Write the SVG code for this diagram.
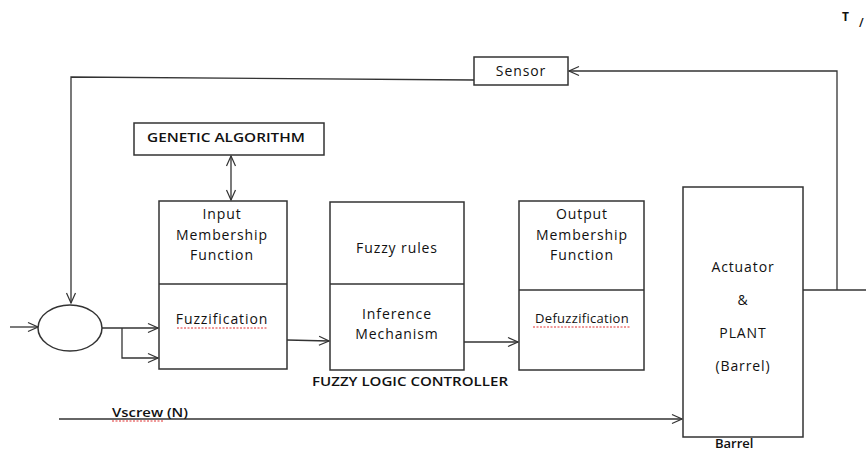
<svg xmlns="http://www.w3.org/2000/svg" width="866" height="451" viewBox="0 0 866 451">
<style>
.box{fill:#fff;stroke:#333;stroke-width:1.5}
.ln{fill:none;stroke:#333;stroke-width:1.3}
.t{font-family:"Open Sans","Liberation Sans",sans-serif;font-size:14px;font-weight:500;fill:#111;text-anchor:middle;letter-spacing:0.9px}
.b{font-family:"Open Sans","Liberation Sans",sans-serif;font-size:13px;font-weight:600;fill:#111}
.sq{fill:none;stroke:#e03030;stroke-width:1;stroke-dasharray:2 1.5}
</style>
<defs>
<marker id="a" markerWidth="12" markerHeight="12" refX="11" refY="6" orient="auto-start-reverse" markerUnits="userSpaceOnUse">
<path d="M1,1.5 L11,6 L1,10.5" fill="none" stroke="#333" stroke-width="1.2"/>
</marker>
</defs>
<rect width="866" height="451" fill="#fff"/>
<g id="connectors">
<polyline class="ln" points="474,80 71,77 71,303" marker-end="url(#a)"/>
<polyline class="ln" points="837,290 837,71 569,71" marker-end="url(#a)"/>
<line class="ln" x1="803" y1="290" x2="866" y2="290"/>
<line class="ln" x1="231" y1="156" x2="231" y2="200" marker-start="url(#a)" marker-end="url(#a)"/>
<line class="ln" x1="10" y1="327" x2="38" y2="327" marker-end="url(#a)"/>
<line class="ln" x1="102" y1="328" x2="158" y2="328" marker-end="url(#a)"/>
<polyline class="ln" points="122,328 122,358 158,358" marker-end="url(#a)"/>
<line class="ln" x1="287" y1="340" x2="329" y2="341" marker-end="url(#a)"/>
<line class="ln" x1="464" y1="342" x2="518" y2="342" marker-end="url(#a)"/>
<line class="ln" x1="59" y1="419" x2="682" y2="419" marker-end="url(#a)"/>
</g>
<g id="sum"><ellipse class="box" cx="70" cy="328" rx="32" ry="23"/></g>
<g id="sensor"><rect class="box" x="474" y="57" width="94" height="28"/><text class="t" x="521" y="76">Sensor</text></g>
<g id="ga"><rect class="box" x="134" y="123" width="190" height="32"/><text class="b" x="147" y="142" textLength="158" lengthAdjust="spacingAndGlyphs">GENETIC ALGORITHM</text></g>
<g id="input">
<rect class="box" x="159" y="201" width="128" height="168"/>
<line class="ln" x1="159" y1="284" x2="287" y2="284"/>
<text class="t" x="222" y="219">Input</text>
<text class="t" x="222" y="240">Membership</text>
<text class="t" x="222" y="260">Function</text>
<text class="t" x="222" y="324">Fuzzification</text>
<path class="sq" d="M177,328 L267,328"/>
</g>
<g id="fuzzy">
<rect class="box" x="330" y="202" width="134" height="168"/>
<line class="ln" x1="330" y1="284" x2="464" y2="284"/>
<text class="t" x="397" y="253">Fuzzy rules</text>
<text class="t" x="397" y="319">Inference</text>
<text class="t" x="397" y="339">Mechanism</text>
</g>
<g id="output">
<rect class="box" x="519" y="201" width="125" height="169"/>
<line class="ln" x1="519" y1="290" x2="644" y2="290"/>
<text class="t" x="582" y="219">Output</text>
<text class="t" x="582" y="240">Membership</text>
<text class="t" x="582" y="260">Function</text>
<text class="t" x="582" y="323" style="font-size:13px;letter-spacing:0.3px">Defuzzification</text>
<path class="sq" d="M533,327 L630,327"/>
</g>
<g id="plant">
<rect class="box" x="683" y="187" width="120" height="250"/>
<text class="t" x="743" y="272">Actuator</text>
<text class="t" x="743" y="305">&amp;</text>
<text class="t" x="743" y="338">PLANT</text>
<text class="t" x="743" y="371">(Barrel)</text>
</g>
<text class="b" x="312" y="386" textLength="196" lengthAdjust="spacingAndGlyphs">FUZZY LOGIC CONTROLLER</text>
<text class="b" x="715" y="448">Barrel</text>
<text class="b" x="112" y="417" textLength="76" lengthAdjust="spacingAndGlyphs">Vscrew (N)</text>
<path class="sq" d="M112,421 L163,421"/>
<text class="b" x="842" y="21" style="font-size:12px;font-weight:bold">T</text>
<text class="b" x="859" y="27" style="font-size:12px">/</text>
</svg>
